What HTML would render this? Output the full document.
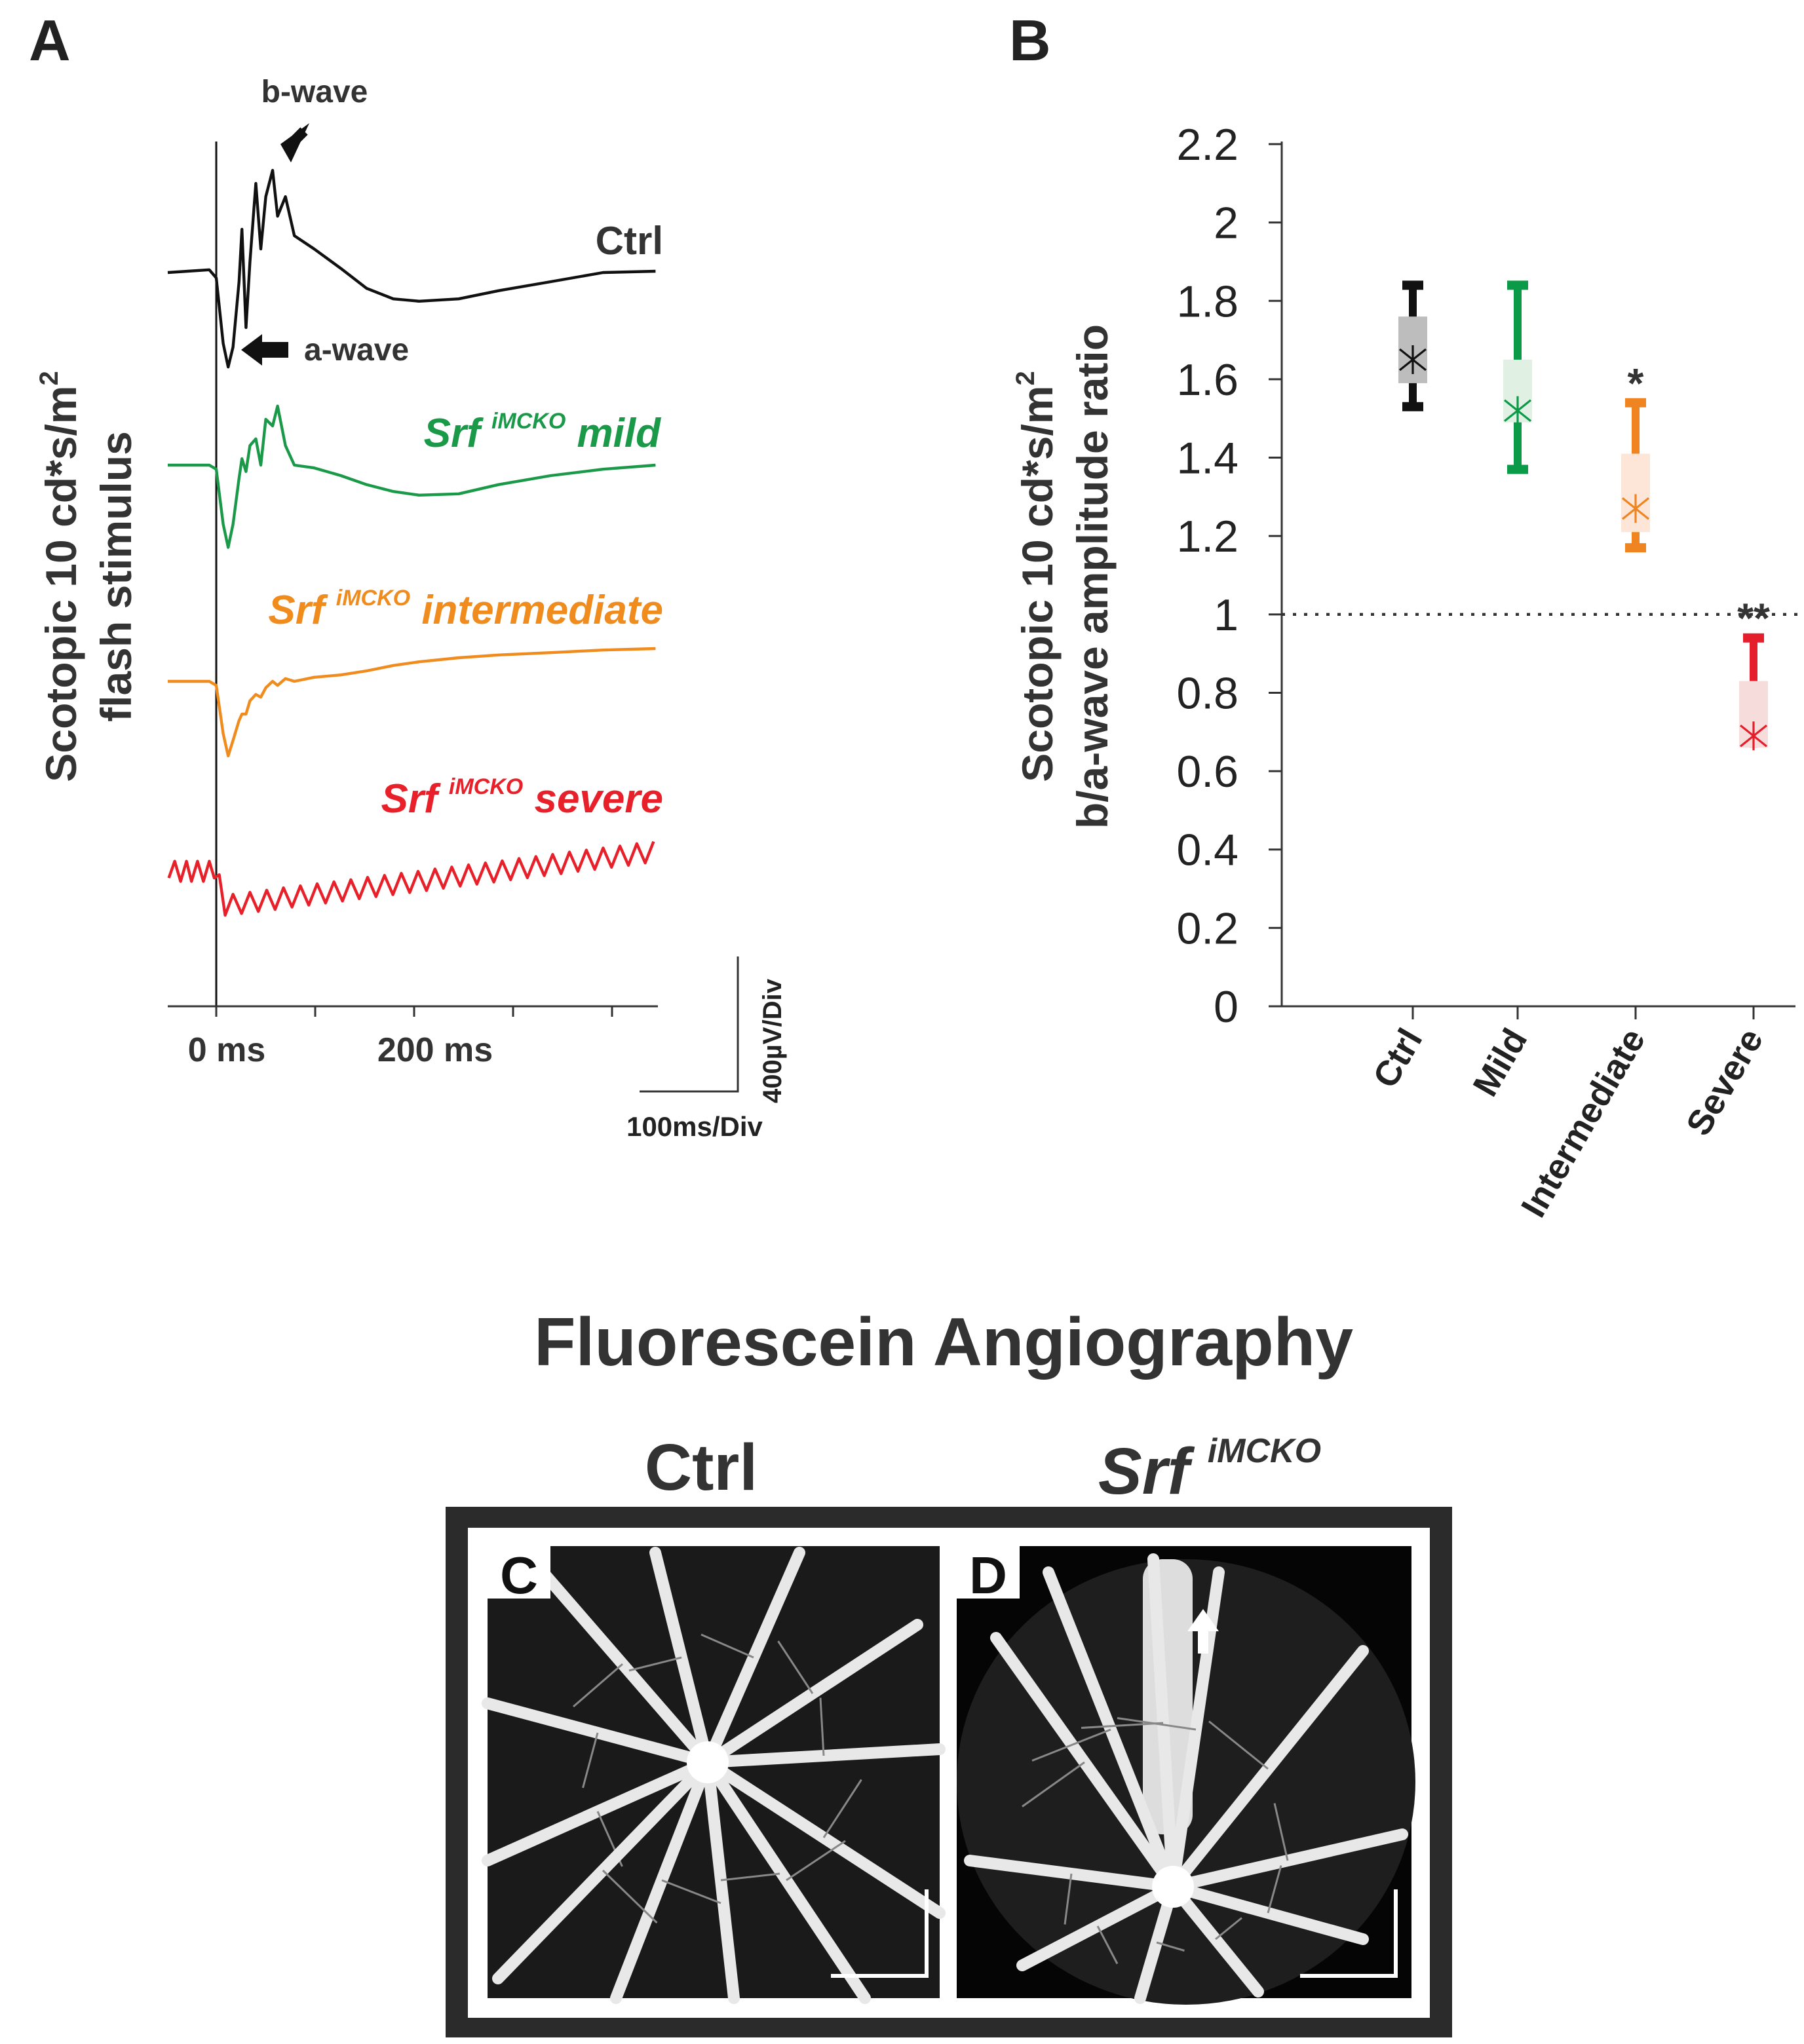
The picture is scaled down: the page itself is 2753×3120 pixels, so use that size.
<!DOCTYPE html>
<html><head><meta charset="utf-8">
<style>
html,body{margin:0;padding:0;background:#fff;}
svg{display:block;font-family:"Liberation Sans",Arial,sans-serif;}
</style></head>
<body>
<svg id="fig" width="2753" height="3120" viewBox="0 0 1376.5 1560" xmlns="http://www.w3.org/2000/svg">
<g id="panelA">
  <text x="22" y="46" font-size="44" font-weight="bold" fill="#222">A</text>
  <text transform="translate(58,440) rotate(-90)" text-anchor="middle" font-size="33" font-weight="bold" fill="#333">Scotopic 10 cd*s/m<tspan font-size="20" dy="-14">2</tspan></text>
  <text transform="translate(100,440) rotate(-90)" text-anchor="middle" font-size="33" font-weight="bold" fill="#333">flash stimulus</text>
  <line x1="165" y1="108" x2="165" y2="768" stroke="#111" stroke-width="1.5"/>
  <line x1="128" y1="768" x2="502" y2="768" stroke="#333" stroke-width="1.5"/>
  <g id="aTicks"></g>
  <text x="173" y="810" text-anchor="middle" font-size="26" font-weight="bold" fill="#333">0 ms</text>
  <text x="332" y="810" text-anchor="middle" font-size="26" font-weight="bold" fill="#333">200 ms</text>
  <g>
    <polyline points="563,730 563,833 488,833" fill="none" stroke="#333" stroke-width="1.5"/>
    <text transform="translate(596,842) rotate(-90)" font-size="20" font-weight="bold" fill="#222">400µV/Div</text>
    <text x="530" y="867" text-anchor="middle" font-size="21" font-weight="bold" fill="#222">100ms/Div</text>
  </g>
  <g id="traces"></g>
  <text x="506" y="194" text-anchor="end" font-size="30" font-weight="bold" fill="#333">Ctrl</text>
  <text x="240" y="78" text-anchor="middle" font-size="24" font-weight="bold" fill="#333">b-wave</text>
  <polygon points="236,94 222,124 214,110" fill="#111"/>
  <line x1="232" y1="100" x2="218" y2="114" stroke="#111" stroke-width="8"/>
  <polygon points="184,267 200,255 200,279" fill="#111"/>
  <rect x="198" y="261" width="22" height="12" fill="#111"/>
  <text x="232" y="275" font-size="24" font-weight="bold" fill="#333">a-wave</text>
  <text x="504" y="341" text-anchor="end" font-size="31" font-weight="bold" font-style="italic" fill="#1a9a48">Srf <tspan font-size="17" dy="-14">iMCKO</tspan><tspan dy="14"> mild</tspan></text>
  <text x="506" y="476" text-anchor="end" font-size="31" font-weight="bold" font-style="italic" fill="#f08c1e">Srf <tspan font-size="17" dy="-14">iMCKO</tspan><tspan dy="14"> intermediate</tspan></text>
  <text x="506" y="620" text-anchor="end" font-size="31" font-weight="bold" font-style="italic" fill="#e8202a">Srf <tspan font-size="17" dy="-14">iMCKO</tspan><tspan dy="14"> severe</tspan></text>
</g>

<g id="panelB">
  <text x="770" y="46" font-size="44" font-weight="bold" fill="#222">B</text>
  <text transform="translate(803,440) rotate(-90)" text-anchor="middle" font-size="33" font-weight="bold" fill="#333">Scotopic 10 cd*s/m<tspan font-size="20" dy="-14">2</tspan></text>
  <text transform="translate(845,440) rotate(-90)" text-anchor="middle" font-size="33" font-weight="bold" fill="#333">b/a-wave amplitude ratio</text>
  <line x1="978" y1="108" x2="978" y2="768" stroke="#333" stroke-width="1.5"/>
  <line x1="978" y1="768" x2="1370" y2="768" stroke="#333" stroke-width="1.5"/>
  <g id="yTicks"></g>
  <g id="xTicks"></g>
  <g id="boxes"></g>
</g>

<g id="panelCD">
  <text x="720" y="1042" text-anchor="middle" font-size="52" font-weight="bold" fill="#333">Fluorescein Angiography</text>
  <text x="535" y="1137" text-anchor="middle" font-size="50" font-weight="bold" fill="#333">Ctrl</text>
  <text x="838" y="1140" font-size="50" font-weight="bold" font-style="italic" fill="#333">Srf <tspan font-size="26" dy="-24">iMCKO</tspan></text>
  <rect x="340" y="1150" width="768" height="405" fill="#2b2b2b"/>
  <rect x="357" y="1166" width="734" height="374" fill="#fff"/>
  <g id="imgC">
    <rect x="372" y="1180" width="345" height="345" fill="#1a1a1a"/>
  </g>
  <g id="imgD">
    <rect x="730" y="1180" width="347" height="345" fill="#050505"/>
    <ellipse cx="905" cy="1360" rx="175" ry="170" fill="#1e1e1e"/>
  </g>
</g>
</svg>
<script>
// ---- Panel A data: waveforms (ms, µV) ----
const ctrlMs = [-49,-7,0,7,12,17,23,26,30,34,40,45,50,57,62,70,79,99,126,152,179,205,245,285,338,391,444];
const ctrlUv = [0,8,-16,-210,-280,-221,-27,128,-163,31,264,70,225,303,167,225,109,70,12,-47,-78,-85,-78,-54,-27,0,4];
const mildUv = [0,0,-12,-175,-244,-175,-39,19,-19,58,78,0,136,116,175,58,0,-8,-31,-58,-78,-89,-85,-58,-31,-12,0];
const interUv = [0,0,-12,-155,-221,-175,-116,-97,-97,-58,-39,-47,-19,0,-12,8,0,12,19,31,47,58,70,78,85,93,97];
const severeMs = [-48,-42,-36,-30,-25,-19,-13,-7,-2,3,9,17,25.5,34,42.5,51,59.5,68,76.5,85,93.5,102,110.5,119,127.5,136,144.5,153,161.5,170,178.5,187,195.5,204,212.5,221,229.5,238,246.5,255,263.5,272,280.5,289,297.5,306,314.5,323,331.5,340,348.5,357,365.5,374,382.5,391,399.5,408,416.5,425,433.5,442];
const severeUv = [-20,30,-30,30,-30,30,-30,30,-20,-10,-130,-68,-125,-62,-119,-56,-113,-49,-106,-43,-100,-37,-94,-31,-88,-25,-81,-18,-75,-12,-69,-6,-63,0,-57,7,-50,13,-44,19,-38,25,-32,31,-25,38,-19,44,-13,50,-7,57,0,63,6,69,12,75,18,82,25,88];
const timeTicksMs = [0,100,200,300,400];

// ---- Panel B data ----
const groups = ["Ctrl","Mild","Intermediate","Severe"];
const boxLow = [1.59,1.49,1.21,0.66];
const boxHigh = [1.76,1.65,1.41,0.83];
const whiskLow = [1.53,1.37,1.17,0.66];
const whiskHigh = [1.84,1.84,1.54,0.94];
const means = [1.65,1.52,1.27,0.69];
const yTickVals = [0,0.2,0.4,0.6,0.8,1,1.2,1.4,1.6,1.8,2,2.2];
const yTickLabels = ["0","0.2","0.4","0.6","0.8","1","1.2","1.4","1.6","1.8","2","2.2"];
const sigMarks = ["","","*","**"];
const refLine = 1;

const NS = "http://www.w3.org/2000/svg";
function mk(tag, attrs, parent){ const e=document.createElementNS(NS,tag); for(const k in attrs) e.setAttribute(k,attrs[k]); parent.appendChild(e); return e; }

const tx = ms => 165 + ms*0.755;
const vy = (base, uv) => base - uv*0.2575;
const aT = document.getElementById('aTicks');
timeTicksMs.forEach(t=>{
  const l = mk('line',{x1:tx(t),x2:tx(t),y1:768,y2:776,stroke:'#333','stroke-width':1.5},aT);
  
  
});
const tr = document.getElementById('traces');
function trace(ms, uv, base, color, name){
  const pts = ms.map((m,i)=>tx(m).toFixed(1)+','+vy(base,uv[i]).toFixed(1)).join(' ');
  const p = mk('polyline',{points:pts,fill:'none',stroke:color,'stroke-width':2.2,'stroke-linejoin':'round'},tr);
  
  
}
trace(ctrlMs, ctrlUv, 208, '#111', 'ctrl-trace');
trace(ctrlMs, mildUv, 355, '#1a9a48', 'mild-trace');
trace(ctrlMs, interUv, 520, '#f08c1e', 'intermediate-trace');
trace(severeMs, severeUv, 665, '#e8202a', 'severe-trace');

const Y = v => 768 - v*(658/2.2);
const xs = [1078,1158,1248,1338];
const yT = document.getElementById('yTicks');
yTickVals.forEach((v,i)=>{
  const l = mk('line',{x1:968,x2:978,y1:Y(v),y2:Y(v),stroke:'#333','stroke-width':1.5},yT);
  
  
  const t = mk('text',{x:945,y:Y(v)+12,'text-anchor':'end','font-size':34,fill:'#222'},yT);
  t.textContent = yTickLabels[i];
  
  
});
const rl = mk('line',{x1:978,x2:1372,y1:Y(refLine),y2:Y(refLine),stroke:'#333','stroke-width':2.2,'stroke-dasharray':'2.5,6'},yT);


const xT = document.getElementById('xTicks');
groups.forEach((g,i)=>{
  const l = mk('line',{x1:xs[i],x2:xs[i],y1:768,y2:778,stroke:'#333','stroke-width':1.5},xT);
  
  
  const t = mk('text',{transform:`translate(${xs[i]+8},${792}) rotate(-60)`,'text-anchor':'end','font-size':27,'font-weight':'bold',fill:'#222'},xT);
  t.textContent = g;
  
  
});
const colors = ['#111','#0a9a48','#f08420','#e41e2a'];
const fills = ['#bdbdbd','#e0f0e2','#fde6d8','#f7dcdc'];
const B = document.getElementById('boxes');
groups.forEach((g,i)=>{
  const x = xs[i];
  const w = mk('line',{x1:x,x2:x,y1:Y(whiskHigh[i]),y2:Y(whiskLow[i]),stroke:colors[i],'stroke-width':6},B);
  
  
  [whiskHigh[i],whiskLow[i]].forEach(v=>{
    if(v>=boxHigh[i]||v<boxLow[i]){
      const c = mk('line',{x1:x-8,x2:x+8,y1:Y(v),y2:Y(v),stroke:colors[i],'stroke-width':7},B);
      
      
    }
  });
  const r = mk('rect',{x:x-11,y:Y(boxHigh[i]),width:22,height:Y(boxLow[i])-Y(boxHigh[i]),fill:fills[i]},B);
  
  
  const my = Y(means[i]);
  const m = mk('path',{d:`M${x-10},${my-8}L${x+10},${my+8}M${x-10},${my+8}L${x+10},${my-8}M${x},${my-11}L${x},${my+11}`,stroke:colors[i],'stroke-width':1.6,fill:'none'},B);
  
  
  if(sigMarks[i]){
    const s = mk('text',{x:x,y:Y(whiskHigh[i])-4,'text-anchor':'middle','font-size':32,'font-weight':'bold',fill:'#333'},B);
    s.textContent = sigMarks[i];
    
    
  }
});

function vessels(gid, cx, cy, ends, w, x0, y0, lab){
  const g = document.getElementById(gid);
  ends.forEach(e=>{
    mk('line',{x1:cx,y1:cy,x2:e[0],y2:e[1],stroke:'#e8e8e8','stroke-width':w,'stroke-linecap':'round'},g);
    mk('line',{x1:(cx+e[0])/2,y1:(cy+e[1])/2,x2:(cx+e[0])/2+(e[1]-cy)*0.25,y2:(cy+e[1])/2-(e[0]-cx)*0.25,stroke:'#888','stroke-width':1.5},g);
  });
  mk('circle',{cx:cx,cy:cy,r:16,fill:'#fff'},g);
  mk('rect',{x:x0,y:y0,width:48,height:40,fill:'#fff'},g);
  const t = mk('text',{x:x0+24,y:y0+36,'text-anchor':'middle','font-size':40,'font-weight':'bold',fill:'#111'},g);
  t.textContent = lab;
  mk('polyline',{points:`${x0+262},${y0+328} ${x0+335},${y0+328} ${x0+335},${y0+262}`,fill:'none',stroke:'#fff','stroke-width':3},g);
}
vessels('imgC',540,1345,[[372,1300],[372,1420],[410,1195],[500,1185],[610,1185],[700,1240],[717,1335],[717,1460],[660,1525],[560,1525],[470,1525],[380,1510]],9,372,1180,'C');
const gD = document.getElementById('imgD');
mk('rect',{x:872,y:1190,width:38,height:210,fill:'#ddd',rx:15},gD);
vessels('imgD',895,1440,[[760,1250],[800,1200],[880,1190],[930,1200],[1040,1260],[1070,1400],[1040,1480],[960,1520],[870,1525],[780,1500],[740,1420]],9,730,1180,'D');
mk('polygon',{points:'918,1228 906,1245 914,1245 914,1262 922,1262 922,1245 930,1245',fill:'#fff'},gD);
</script>
</body></html>
